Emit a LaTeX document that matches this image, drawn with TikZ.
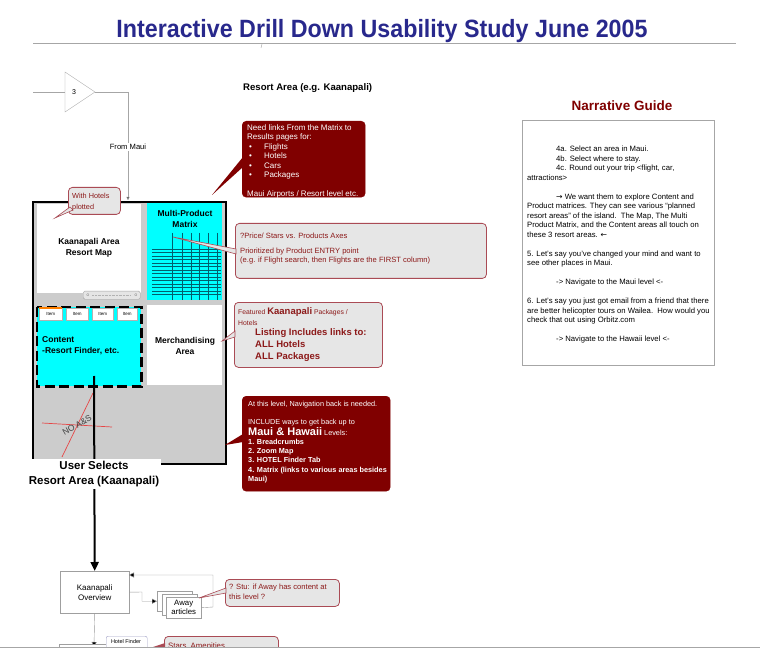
\documentclass[tikz,border=0pt]{standalone}
\usepackage{fontspec}
\setmainfont{Liberation Sans}
\newfontfamily\dejavu{DejaVu Sans}
\usetikzlibrary{arrows.meta}
\definecolor{tblue}{RGB}{40,40,140}
\definecolor{dred}{RGB}{128,0,0}
\definecolor{cred}{RGB}{140,25,25}
\definecolor{cbord}{RGB}{170,75,85}
\definecolor{cfill}{RGB}{230,230,230}
\definecolor{bggray}{RGB}{204,204,204}
\definecolor{acyan}{RGB}{0,255,255}
\definecolor{gridc}{RGB}{0,95,110}
\definecolor{xred}{RGB}{230,70,70}
\tikzset{
  darkcallout/.style={fill=dred, draw=dred, rounded corners=4pt, anchor=north west, inner sep=0},
  graycallout/.style={fill=cfill, draw=cbord, line width=0.8pt, rounded corners=4pt, anchor=north west, inner sep=0},
  whitetext/.style={text=white, align=left, anchor=north west, inner sep=0, font=\fontsize{8}{9.5}\selectfont},
  redtext/.style={text=cred, align=left, anchor=north west, inner sep=0, font=\fontsize{7.6}{8.8}\selectfont},
  areatext/.style={font=\bfseries\fontsize{8.5}{10.5}\selectfont, align=center, inner sep=0},
  region/.style={anchor=north west, inner sep=0},
  flowbox/.style={draw=gray!75, fill=white, anchor=north west, inner sep=0},
  thinarrow/.style={draw=gray!80, -{Triangle[length=5pt,width=5pt,fill=black]}},
}
\begin{document}
\begin{tikzpicture}[x=1pt,y=-1pt]
\useasboundingbox (0,0) rectangle (760,668);
\fill[white] (0,0) rectangle (760,668);

% title
\node[font=\bfseries\fontsize{25}{27}\selectfont, text=tblue, xscale=0.93, inner sep=0] (title) at (382,31) {Interactive Drill Down Usability Study June 2005};
\coordinate (hlA) at (33,44); \coordinate (hlB) at (736,44);
\draw[gray!70, line width=1pt] (hlA) -- (hlB);
\coordinate (tickA) at (262,44); \coordinate (tickB) at (261,48);
\draw[gray!70] (tickA) -- (tickB);

% triangle 3
\coordinate (triT) at (65,72); \coordinate (triB) at (65,112); \coordinate (triR) at (95,92); \coordinate (triL) at (65,92);
\draw[gray!70] (triT) -- (triR) -- (triB) -- cycle;
\node[font=\fontsize{7}{8}\selectfont, inner sep=0] (tri3) at (74,92) {3};
\coordinate (inL) at (33,92);
\draw[gray!70] (inL) -- (triL);
\coordinate (bend) at (128,92); \coordinate (boxin) at (128,200);
\draw[gray!70, -{Triangle[length=3pt,width=3pt,fill=black]}] (triR) -- (bend) -- (boxin);
\node[fill=white, inner sep=1pt, font=\fontsize{7.6}{8}\selectfont] (frommaui) at (128,147) {From Maui};

% resort area heading
\node[font=\bfseries\fontsize{9.6}{10}\selectfont, anchor=west, inner sep=0] (resorthead) at (243,88) {Resort Area (e.g. Kaanapali)};

% dark callout 1
\node[darkcallout, minimum width=123, minimum height=76] (need) at (242,121) {};
\coordinate (needtip) at (212,195); \coordinate (needa) at (243,157); \coordinate (needb) at (243,167);
\fill[dred] (needtip) -- (needa) -- (needb) -- cycle;
\node[whitetext] (needtxt) at (247,124.5) {Need links From the Matrix to\\Results pages for:\\
\hspace*{2pt}\makebox[15pt][l]{\textbullet}Flights\\
\hspace*{2pt}\makebox[15pt][l]{\textbullet}Hotels\\
\hspace*{2pt}\makebox[15pt][l]{\textbullet}Cars\\
\hspace*{2pt}\makebox[15pt][l]{\textbullet}Packages\\
\mbox{}\\
Maui Airports / Resort level etc.};

% main box
\node[region, draw=black, line width=2.2pt, fill=bggray, minimum width=193, minimum height=262] (mainbox) at (32,201) {};
\node[region, fill=white, minimum width=104, minimum height=89] (map) at (37,204) {};
\node[areatext] (maptxt) at (89,248) {Kaanapali Area\\Resort Map};
\node[region, fill=acyan, minimum width=75, minimum height=97] (matrix) at (147,203) {};
\node[areatext] (matrixtxt) at (185,219) {Multi-Product\\Matrix};
\foreach \gx in {172,182,191,199,208,217} { \draw[gridc, line width=0.5pt] (\gx,233) -- (\gx,300); }
\foreach \gi in {0,...,13} { \draw[gridc, line width=0.5pt] (152,249+3.5*\gi) -- (221,249+3.5*\gi); }
\node[region, draw=gray!70, fill=gray!20, rounded corners=1.5pt, minimum width=57, minimum height=8] (slider) at (83,291) {};
\draw[gray!60, densely dotted] (92,295) -- (131,295);
\node[font=\fontsize{4}{4}\selectfont, text=gray!60!black, inner sep=0] (zoomminus) at (88,295) {$\circ$};
\node[font=\fontsize{4}{4}\selectfont, text=gray!60!black, inner sep=0] (zoomplus) at (136,295) {$\circ$};

% content region
\node[region, fill=acyan, minimum width=104, minimum height=79] (content) at (37,307) {};
\draw[black, line width=2.6pt, dash pattern=on 10pt off 4.5pt] (content.north west) rectangle (content.south east);
\foreach \tx/\tw [count=\ti] in {39/23,66/22,92/21,117/20} {
  \node[region, draw=gray!60, fill=white, minimum width=\tw, minimum height=12] (tab\ti) at (\tx,308) {};
  \node[font=\fontsize{4.5}{5}\selectfont\rmfamily, inner sep=0] (tabt\ti) at (tab\ti.center) {Item};
}
\draw[orange, line width=1.2pt] (tab1.north west) -- (tab1.north east);
\node[font=\bfseries\fontsize{8.5}{11}\selectfont, align=left, anchor=north west, inner sep=0] (contenttxt) at (42,336) {Content\\-Resort Finder, etc.};
\node[region, fill=white, minimum width=75, minimum height=80] (merch) at (147,305) {};
\node[areatext] (merchtxt) at (185,346) {Merchandising\\Area};

% red cross
\coordinate (crA) at (42,423); \coordinate (crB) at (112,427);
\coordinate (crC) at (62,457); \coordinate (crD) at (93,393);
\draw[xred, line width=0.7pt] (crA) -- (crB);
\draw[xred, line width=0.7pt] (crC) -- (crD);
\node[font=\fontsize{8.5}{9}\selectfont, text=black!75, rotate=30, inner sep=0] (noas) at (77,425) {NO A\&S};

% main flow line
\coordinate (flowstart) at (94,376);
\node[flowbox, minimum width=69, minimum height=42] (ovw) at (60,571) {};
\node[font=\fontsize{8}{10}\selectfont, align=center, inner sep=0] (ovwtxt) at (ovw.center) {Kaanapali\\Overview};
\draw[black, line width=2pt, -{Triangle[length=9pt,width=8pt]}] (flowstart) -- (ovw.north);
\node[fill=white, font=\bfseries\fontsize{11.5}{15}\selectfont, align=center, inner sep=2pt] (selects) at (94,474) {User Selects\\Resort Area (Kaanapali)};

% gray callout 2 (matrix)
\node[graycallout, minimum width=251, minimum height=55] (axes) at (235,223) {};
\coordinate (axtip) at (173,237); \coordinate (axa) at (236,249); \coordinate (axb) at (236,254);
\filldraw[fill=cfill, draw=cbord, line width=0.6pt] (axtip) -- (axa) -- (axb) -- cycle;
\node[redtext] (axestxt) at (240,232.5) {?Price/ Stars vs. Products Axes\\ \mbox{}\\[-2pt]Prioritized by Product ENTRY point\\(e.g. if Flight search, then Flights are the FIRST column)};

% gray callout 3 (merch)
\node[graycallout, minimum width=148, minimum height=65] (feat) at (234,302) {};
\coordinate (fttip) at (222,341); \coordinate (fta) at (235,331); \coordinate (ftb) at (235,337);
\filldraw[fill=cfill, draw=cbord, line width=0.6pt] (fttip) -- (fta) -- (ftb) -- cycle;
\node[redtext, font=\fontsize{6.8}{11}\selectfont] (feattxt) at (238,307) {Featured {\bfseries\fontsize{9.5}{11}\selectfont Kaanapali} Packages /\\Hotels};
\node[redtext, font=\bfseries\fontsize{9.5}{12}\selectfont] (listtxt) at (255,328) {Listing Includes links to:\\ALL Hotels\\ALL Packages};

% dark callout 4
\node[darkcallout, minimum width=148, minimum height=95] (nav) at (242,396) {};
\coordinate (navtip) at (225,445); \coordinate (nava) at (243,434); \coordinate (navb) at (243,442);
\fill[dred] (navtip) -- (nava) -- (navb) -- cycle;
\node[whitetext, font=\fontsize{7.3}{9.2}\selectfont] (navtxt) at (248,401) {At this level, Navigation back is needed.\\ \mbox{}\\
INCLUDE ways to get back up to\\
{\bfseries\fontsize{11}{12}\selectfont Maui \& Hawaii} Levels:\\
\textbf{1. Breadcrumbs}\\
\textbf{2. Zoom Map}\\
\textbf{3. HOTEL Finder Tab}\\
\textbf{4. Matrix (links to various areas besides}\\
\textbf{Maui)}};

% with hotels callout
\node[graycallout, minimum width=52, minimum height=27] (withh) at (68,187) {};
\coordinate (whtip) at (55,218); \coordinate (wha) at (70,207); \coordinate (whb) at (73,210);
\filldraw[fill=cfill, draw=cbord, line width=0.6pt] (whtip) -- (wha) -- (whb) -- cycle;
\node[redtext, font=\fontsize{7.3}{11}\selectfont] (withtxt) at (72,193) {With Hotels\\plotted};

% narrative guide
\node[font=\bfseries\fontsize{13.5}{14}\selectfont, text=dred, inner sep=0] (narrhead) at (622,106) {Narrative Guide};
\node[region, draw=gray!70, line width=0.8pt, minimum width=192, minimum height=245] (narrbox) at (522,120) {};
\node[align=left, anchor=north west, inner sep=0, font=\fontsize{7.7}{9.5}\selectfont] (narrtxt) at (527,146) {%
\hspace*{29pt}4a. Select an area in Maui.\\
\hspace*{29pt}4b. Select where to stay.\\
\hspace*{29pt}4c. Round out your trip <flight, car,\\
attractions>\\
\mbox{}\\
\hspace*{29pt}{\dejavu →} We want them to explore Content and\\
Product matrices. They can see various “planned\\
resort areas” of the island.\ \ The Map, The Multi\\
Product Matrix, and the Content areas all touch on\\
these 3 resort areas. {\dejavu ←}\\
\mbox{}\\
5. Let's say you've changed your mind and want to\\
see other places in Maui.\\
\mbox{}\\
\hspace*{29pt}-> Navigate to the Maui level <-\\
\mbox{}\\
6. Let's say you just got email from a friend that there\\
are better helicopter tours on Wailea.\ \ How would you\\
check that out using Orbitz.com\\
\mbox{}\\
\hspace*{29pt}-> Navigate to the Hawaii level <-};

% away articles
\node[flowbox, minimum width=35, minimum height=20] (away1) at (157,591) {};
\node[flowbox, minimum width=35, minimum height=21] (away2) at (162,594) {};
\node[flowbox, minimum width=35, minimum height=21, font=\fontsize{7.8}{9}\selectfont, align=center] (away3) at (166,597) {Away\\articles};
\coordinate (outbend) at (142,592);
\draw[thinarrow] (ovw.east) -- (outbend) |- (away1.west);
\coordinate (retx) at (213,607); \coordinate (rety) at (213,575); \coordinate (retend) at (129,575);
\draw[thinarrow] (away3.east) -- (retx) -- (rety) -- (retend);

% stu callout
\node[graycallout, minimum width=114, minimum height=27] (stu) at (225,579) {};
\coordinate (sttip) at (199,598); \coordinate (sta) at (226,588); \coordinate (stb) at (226,593);
\filldraw[fill=cfill, draw=cbord, line width=0.6pt] (sttip) -- (sta) -- (stb) -- cycle;
\node[redtext, font=\fontsize{7.6}{9.5}\selectfont] (stutxt) at (229,584) {? Stu: if Away has content at\\this level ?};

% bottom (clipped)
\begin{scope}
\clip (0,0) rectangle (760,647);
\coordinate (downend) at (94,647);
\draw[thinarrow] (ovw.south) -- (downend);
\node[flowbox, minimum width=71, minimum height=20] (nextbox) at (59,644) {};
\node[region, draw=blue!25!gray!60, fill=white, rounded corners=2pt, minimum width=41, minimum height=16] (hotelf) at (106,636) {};
\node[font=\fontsize{5.5}{6}\selectfont, inner sep=0] (hotelftxt) at (126,642) {Hotel Finder};
\node[graycallout, minimum width=114, minimum height=25] (stars) at (164,636) {};
\coordinate (srtip) at (150,648); \coordinate (sra) at (165,643); \coordinate (srb) at (165,647);
\fill[cbord] (srtip) -- (sra) -- (srb) -- cycle;
\node[redtext, font=\fontsize{7.8}{9}\selectfont] (starstxt) at (168,643) {Stars, Amenities};
\end{scope}
\coordinate (blA) at (0,647.5); \coordinate (blB) at (760,647.5);
\draw[gray!70, line width=1pt] (blA) -- (blB);
\end{tikzpicture}
\end{document}
